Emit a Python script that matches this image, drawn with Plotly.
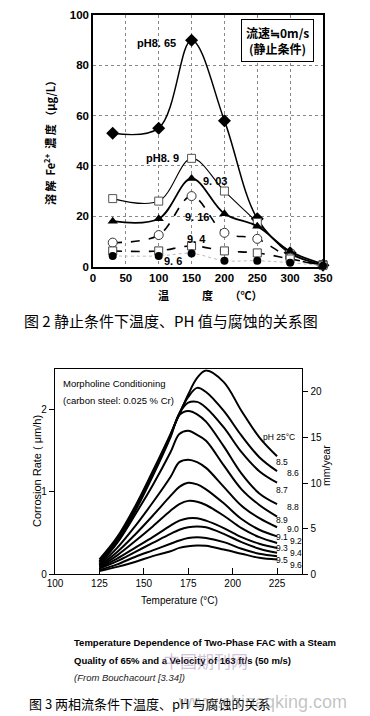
import plotly.graph_objects as go

W, H = 370, 716

# ---------- Chart 1 data (static condition) ----------
temp1 = [30, 100, 150, 200, 250, 300, 350]
fe_ph865 = [53, 55, 90, 58, 19, 5.5, 0.5]
fe_ph89 = [27, 26, 43, 30, 17.5, 5, 0.8]
fe_ph903 = [18, 19, 35, 21, 16, 6, 1]
fe_ph916 = [9.5, 12.5, 28, 13.4, 11, 3.5, 0.5]
fe_ph94 = [6.2, 6.2, 8.2, 6.2, 5.4, 3, 0.5]
fe_ph96 = [4.2, 4.2, 5.2, 2.3, 2.3, 1.5, 0.3]
x1_ticks = [0, 50, 100, 150, 200, 250, 300, 350]
y1_ticks = [0, 20, 40, 60, 80, 100]

# ---------- Chart 2 data (two-phase flow) ----------
temp2 = [125, 135, 145, 155, 165, 170, 175, 180, 185, 195, 205, 215, 225]
ph_labels2 = ["8.5", "8.6", "8.7", "8.8", "8.9", "9.0", "9.1", "9.2", "9.3", "9.4", "9.5", "9.6"]
cr_85 = [0.18, 0.45, 0.82, 1.25, 1.70, 1.94, 2.18, 2.38, 2.47, 2.33, 1.98, 1.66, 1.43]
cr_86 = [0.16, 0.43, 0.80, 1.23, 1.69, 1.95, 2.15, 2.26, 2.21, 1.98, 1.68, 1.42, 1.25]
cr_87 = [0.15, 0.41, 0.78, 1.21, 1.68, 1.95, 2.08, 2.09, 2.02, 1.78, 1.48, 1.25, 1.11]
cr_88 = [0.14, 0.39, 0.76, 1.19, 1.66, 1.93, 1.98, 1.94, 1.85, 1.55, 1.22, 0.98, 0.85]
cr_89 = [0.12, 0.38, 0.72, 1.08, 1.48, 1.70, 1.74, 1.69, 1.62, 1.32, 1.03, 0.84, 0.70]
cr_90 = [0.11, 0.32, 0.58, 0.87, 1.18, 1.36, 1.39, 1.36, 1.29, 1.06, 0.83, 0.68, 0.57]
cr_91 = [0.10, 0.27, 0.48, 0.71, 0.95, 1.06, 1.11, 1.09, 1.03, 0.86, 0.67, 0.54, 0.46]
cr_92 = [0.09, 0.23, 0.40, 0.58, 0.77, 0.85, 0.89, 0.88, 0.84, 0.71, 0.56, 0.45, 0.38]
cr_93 = [0.08, 0.19, 0.32, 0.45, 0.59, 0.65, 0.68, 0.68, 0.65, 0.56, 0.45, 0.37, 0.32]
cr_94 = [0.07, 0.16, 0.27, 0.38, 0.49, 0.54, 0.57, 0.58, 0.57, 0.49, 0.39, 0.31, 0.26]
cr_95 = [0.05, 0.12, 0.21, 0.29, 0.37, 0.41, 0.44, 0.45, 0.44, 0.39, 0.31, 0.25, 0.22]
cr_96 = [0.04, 0.09, 0.15, 0.22, 0.28, 0.32, 0.34, 0.35, 0.345, 0.30, 0.25, 0.20, 0.18]
x2_ticks = [100, 125, 150, 175, 200, 225]
y2_ticks = [0, 1, 2]
y3_ticks = [0, 5, 10, 15, 20]


def px(x):
    return x / W


def py(y):
    return 1 - y / H


fig = go.Figure()

# ---- chart 1 traces ----
series1 = [
    (fe_ph865, dict(color="black", width=1.5, dash="solid"),
     dict(symbol="diamond", size=10, color="black")),
    (fe_ph89, dict(color="black", width=1.1, dash="solid"),
     dict(symbol="square", size=8, color="white", line=dict(color="#555", width=1))),
    (fe_ph903, dict(color="black", width=1.8, dash="solid"),
     dict(symbol="triangle-up", size=9, color="black")),
    (fe_ph916, dict(color="black", width=1.6, dash="dash"),
     dict(symbol="circle", size=9, color="white", line=dict(color="#333", width=1))),
    (fe_ph94, dict(color="black", width=1.6, dash="dash"),
     dict(symbol="square", size=8, color="white", line=dict(color="#444", width=1))),
    (fe_ph96, dict(color="#bbbbbb", width=1, dash="dot"),
     dict(symbol="circle", size=8, color="black")),
]
for vals, ln, mk in series1:
    fig.add_trace(go.Scatter(x=temp1, y=vals, mode="lines+markers",
                             line=dict(shape="spline", smoothing=1.0, **ln),
                             marker=mk, cliponaxis=False, showlegend=False,
                             xaxis="x", yaxis="y"))

# ---- chart 2 traces ----
series2 = [cr_85, cr_86, cr_87, cr_88, cr_89, cr_90, cr_91, cr_92, cr_93, cr_94, cr_95, cr_96]
for vals in series2:
    fig.add_trace(go.Scatter(x=temp2, y=vals, mode="lines",
                             line=dict(color="black", width=2, shape="spline", smoothing=1.0),
                             showlegend=False, xaxis="x2", yaxis="y2"))
fig.add_trace(go.Scatter(x=[None], y=[None], mode="lines", showlegend=False,
                         xaxis="x2", yaxis="y3"))

bold_font = dict(family="Liberation Sans, Arial", size=11.5, color="black", weight="bold")
sans = "Liberation Sans, Arial"
tick2_font = dict(family=sans, size=10, color="black")

fig.update_layout(
    width=W, height=H,
    margin=dict(l=0, r=0, t=0, b=0, autoexpand=False),
    paper_bgcolor="white", plot_bgcolor="white",
    xaxis=dict(domain=[px(93), px(323)], range=[0, 350], anchor="y", automargin=False,
               tickvals=x1_ticks, ticks="", tickfont=bold_font,
               showgrid=True, gridcolor="#888", griddash="dot", gridwidth=1,
               showline=True, linecolor="black", linewidth=1.5, mirror=True,
               zeroline=False),
    yaxis=dict(domain=[py(266.5), py(15)], range=[0, 100], anchor="x", automargin=False,
               tickvals=y1_ticks, ticks="", tickfont=bold_font,
               showgrid=True, gridcolor="#888", griddash="dot", gridwidth=1,
               showline=True, linecolor="black", linewidth=1.5, mirror=True,
               zeroline=False),
    xaxis2=dict(domain=[px(55), px(302.3)], range=[100, 239.2], anchor="y2", automargin=False,
                tickvals=x2_ticks, ticks="inside", ticklen=6, tickcolor="black",
                tickfont=tick2_font, showgrid=False, zeroline=False,
                showline=True, linecolor="black", linewidth=1.2, mirror=True),
    yaxis2=dict(domain=[py(574.3), py(369.3)], range=[0, 2.485], anchor="x2", automargin=False,
                tickvals=y2_ticks, ticks="outside", ticklen=5, tickcolor="black",
                tickfont=tick2_font, showgrid=False, zeroline=False,
                showline=True, linecolor="black", linewidth=1.2),
    yaxis3=dict(overlaying="y2", side="right", anchor="x2", range=[0, 22.48], automargin=False,
                tickvals=y3_ticks, ticks="outside", ticklen=5, tickcolor="black",
                tickfont=tick2_font, showgrid=False, zeroline=False,
                showline=True, linecolor="black", linewidth=1.2),
)

ann = []
cjk_bold = dict(family="Noto Sans CJK JP", size=11, color="black", weight="bold")


def A(text, x, y, font, xanchor="center", yanchor="middle", **kw):
    ann.append(dict(text=text, x=px(x), y=py(y), xref="paper", yref="paper",
                    showarrow=False, font=font, xanchor=xanchor, yanchor=yanchor, **kw))


# chart 1 series labels (data coords)
labels1 = [("pH8. 65", 97, 89), ("pH8. 9", 106, 43), ("9. 03", 185, 34),
           ("9. 16", 158, 19.6), ("9. 4", 158, 11), ("9. 6", 122, 2.1)]
for t, xv, yv in labels1:
    ann.append(dict(text=t, x=xv, y=yv, xref="x", yref="y", showarrow=False,
                    font=dict(family=sans, size=11, color="black", weight="bold")))

A("流速≒0m/s<br>(静止条件)", 277.5, 41, dict(family="Noto Sans CJK JP", size=12, color="black", weight="bold"),
  bordercolor="black", borderwidth=1, borderpad=4, bgcolor="white")
A("溶 解  Fe<sup>2+</sup>  濃 度 （μg/L）", 50, 140, cjk_bold, textangle=-90)
A("温　　　度　　（℃）", 210, 295, cjk_bold)
A("图 2 静止条件下温度、PH 值与腐蚀的关系图", 22, 320,
  dict(family="Noto Sans CJK SC", size=15, color="black"), xanchor="left")

# chart 2 texts
f10 = dict(family=sans, size=9.5, color="black")
A("Morpholine Conditioning", 61, 383, f10, xanchor="left")
A("(carbon steel: 0.025 % Cr)", 61, 400, f10, xanchor="left")
A("Corrosion Rate ( μm/h)", 37, 471, dict(family=sans, size=11, color="black"), textangle=-90)
A("mm/year", 326, 466, dict(family=sans, size=10.5, color="black"), textangle=-90)
A("Temperature (°C)", 179, 600, dict(family=sans, size=10, color="black"))
f9 = dict(family=sans, size=8.5, color="black")
A("pH 25°C", 279, 437, f9)
label_pos2 = [(282, 462), (293, 473), (282, 490), (293, 507), (282, 520), (293, 529),
              (282, 537), (296, 541), (282, 548), (296, 553), (282, 560), (296, 565)]
for lab, (lx, ly) in zip(ph_labels2, label_pos2):
    A(lab, lx, ly, f9)

fcap = dict(family=sans, size=9.5, color="black", weight="bold")
A("Temperature Dependence of Two-Phase FAC with a Steam", 72, 642, fcap, xanchor="left")
A("Quality of 65% and a Velocity of 163 ft/s (50 m/s)", 72, 660, fcap, xanchor="left")
A("<i>(From Bouchacourt [3.34])</i>", 72, 677, dict(family=sans, size=9.5, color="#222"),
  xanchor="left")
A("中国期刊网", 205, 660, dict(family="Noto Sans CJK SC", size=17, color="rgba(150,120,170,0.45)"))
A("图 3 两相流条件下温度、pH 与腐蚀的关系", 27, 703,
  dict(family="Noto Sans CJK SC", size=13, color="black"), xanchor="left")
A("www.chinaqking.com", 262, 702, dict(family=sans, size=18, color="rgba(120,120,120,0.45)"))

fig.update_layout(annotations=ann)
fig.write_html("out.html", config={"displayModeBar": False},
               post_script="document.body.style.margin='0';")
